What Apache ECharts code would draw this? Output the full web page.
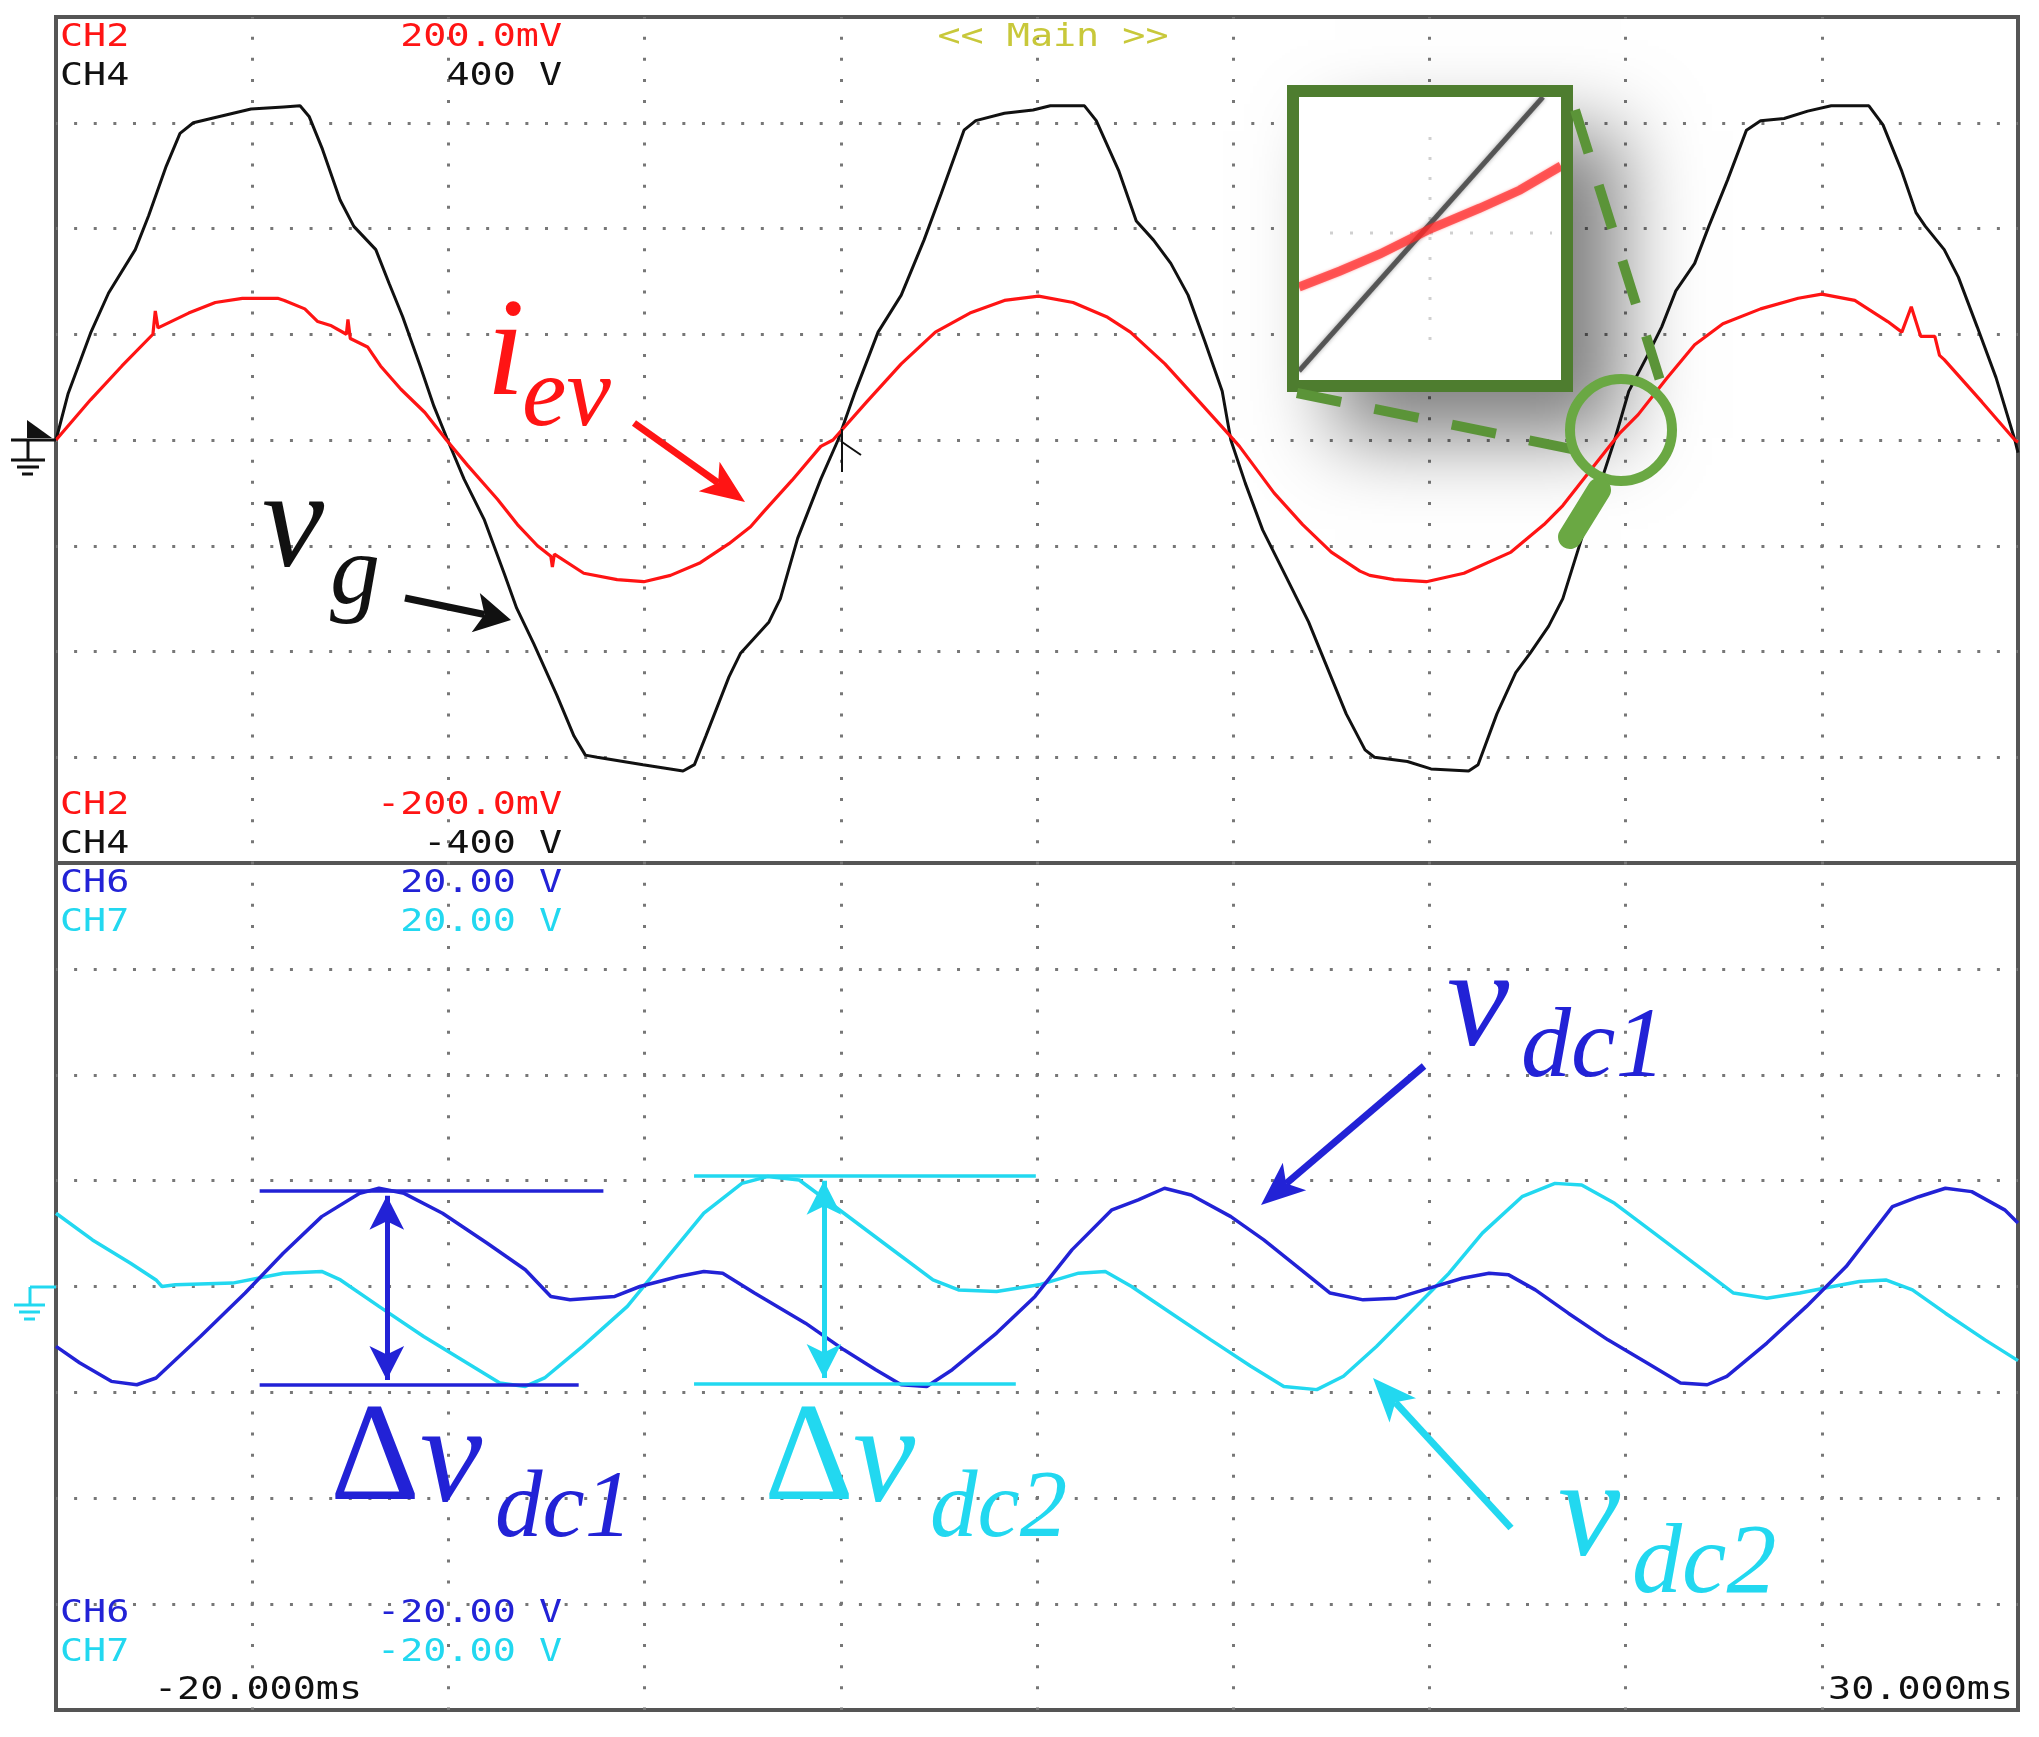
<!DOCTYPE html>
<html>
<head>
<meta charset="utf-8">
<title>vg / iev / vdc1 / vdc2</title>
<script src="https://cdn.jsdelivr.net/npm/echarts@6/dist/echarts.min.js"></script>
<style>
  * { margin: 0; padding: 0; }
  html, body { background: #fff; }
  #main { width: 2039px; height: 1737px; }
</style>
</head>
<body>
<div id="main"></div>
<script>
// ---- data (time in ms) ----
// CH4: grid voltage vg (V), 100 V/div
const vgTime = [-20.0, -19.69, -19.12, -18.66, -17.98, -17.64, -17.19, -16.84, -16.5, -15.94, -15.03, -14.2, -13.78, -13.55, -13.21, -12.76, -12.41, -11.85, -11.51, -11.17, -10.71, -10.37, -10.02,
  -9.6, -9.09, -8.58, -8.26, -7.82, -7.24, -6.8, -6.51, -6.21, -5.04, -4.02, -3.73, -3.44, -2.85, -2.56, -1.83, -1.54, -1.1, -0.51, -0.07,
  0.37, 0.95, 1.54, 2.12, 2.56, 3.14, 3.44, 4.17, 4.9, 5.34, 6.21, 6.51, 7.09, 7.53, 7.97, 8.41, 8.85, 9.28, 9.72, 9.94,
  10.31, 10.75, 11.33, 11.92, 12.35, 12.88, 13.36, 13.6, 14.44, 15.04, 16.0, 16.24, 16.72, 17.2, 17.56, 18.04, 18.4, 18.88, 19.36, 19.72,
  20.08, 20.56, 20.92, 21.28, 21.76, 22.12, 22.6, 23.08, 23.44, 24.04, 24.64, 25.24, 26.2, 26.56, 27.04, 27.4, 27.64, 28.12, 28.48, 28.96, 29.44, 29.92, 30.0]
const vgVolt = [0, 44, 101, 139, 180, 212, 259, 290, 300, 305, 313, 315, 316, 306, 275, 227, 202, 180, 148, 117, 69, 32, 0,
  -37, -75, -126, -159, -193, -241, -280, -298, -300, -307, -313, -307, -280, -224, -202, -172, -150, -93, -37, 0,
  46, 102, 137, 189, 233, 293, 302, 309, 312, 316, 316, 302, 254, 207, 189, 167, 137, 93, 46, 0,
  -41, -85, -128, -172, -211, -259, -293, -300, -304, -311, -313, -307, -259, -220, -202, -176, -150, -93, -41, 0,
  46, 80, 107, 141, 167, 202, 246, 293, 302, 304, 311, 316, 316, 298, 254, 215, 202, 180, 154, 107, 59, 0, -12]

// CH2: EV current probe iev (mV), 50 mV/div
const ievTime = [-20.0, -19.12, -18.32, -17.53, -17.47, -17.4, -16.62, -15.94, -15.25, -14.35, -14.18, -13.66, -13.33, -12.98, -12.6, -12.56, -12.5, -12.06, -11.73, -11.21, -10.6, -10.05,
  -9.51, -8.75, -8.24, -7.73, -7.39, -7.35, -7.3, -6.55, -5.7, -5.02, -4.34, -3.58, -2.85, -2.3, -1.97, -1.24, -0.51, -0.2,
  0.66, 1.54, 2.41, 3.29, 4.17, 5.04, 5.92, 6.8, 7.38, 8.26, 9.14, 9.87,
  10.16, 11.04, 11.77, 12.5, 13.23, 13.48, 14.1, 14.92, 15.88, 17.08, 17.92, 18.4, 19.12, 19.84,
  20.32, 21.04, 21.76, 22.48, 23.44, 24.4, 25.0, 25.84, 26.68, 27.04, 27.28, 27.52, 27.88, 28.0, 28.12, 29.08, 29.92, 30.0]
const ievCurr = [0, 19, 35, 50, 61, 53, 60, 65, 67, 67, 66, 62, 56, 54, 50, 57, 48, 44, 35, 24, 13, 0,
  -12, -28, -40, -50, -55, -60, -54, -63, -66, -67, -64, -58, -49, -41, -34, -19, -3, 0,
  18, 36, 51, 60, 66, 68, 65, 58, 51, 36, 18, 3,
  -3, -25, -40, -53, -62, -64, -66, -67, -63, -53, -40, -31, -14, 3,
  12, 29, 45, 55, 62, 67, 69, 66, 56, 51, 63, 49, 49, 40, 38, 18, 0, -1]

// CH6: vdc1 ripple (V), 5 V/div
const vdc1Time = [-20.0, -19.4, -18.59, -17.94, -17.45, -16.32, -15.18, -14.21, -13.23, -12.26, -11.77, -11.13, -10.15, -9.01, -8.04, -7.39, -6.9, -5.76, -5.12, -4.14, -3.49, -3.01, -2.2, -0.9,
  0.08, 0.89, 1.54, 2.19, 2.84, 3.97, 4.95, 5.89, 6.91, 7.58, 8.25, 8.93, 9.94, 10.78, 11.63, 12.47, 13.31, 14.16, 15.0, 15.84, 16.52, 17.02, 17.7, 18.54, 19.55,
  20.56, 21.4, 22.08, 22.58, 23.6, 24.61, 25.62, 26.8, 27.47, 28.15, 28.82, 29.66, 30.0]
const vdc1Volt = [-2.83, -3.6, -4.48, -4.64, -4.32, -2.36, -0.31, 1.57, 3.3, 4.4, 4.64, 4.4, 3.46, 2.04, 0.79, -0.47, -0.63, -0.47, 0, 0.47, 0.71, 0.63, -0.31, -1.73,
  -2.99, -3.93, -4.64, -4.72, -3.93, -2.2, -0.47, 1.73, 3.62, 4.09, 4.64, 4.32, 3.3, 2.2, 0.94, -0.31, -0.63, -0.55, -0.08, 0.39, 0.63, 0.55, -0.16, -1.26, -2.52,
  -3.62, -4.56, -4.64, -4.24, -2.67, -0.94, 0.94, 3.77, 4.24, 4.64, 4.48, 3.62, 3.0]

// CH7: vdc2 ripple (V), 5 V/div
const vdc2Time = [-20.0, -19.07, -18.1, -17.45, -17.3, -16.96, -15.5, -14.21, -13.23, -12.75, -11.77, -10.63, -9.66, -8.69, -8.04, -7.55, -6.58, -5.44, -4.47, -3.49, -2.52, -1.87, -1.06,
  0.08, 1.21, 2.35, 3.0, 3.97, 5.05, 6.06, 6.74, 7.41, 8.42, 9.43, 10.45, 11.29, 12.13, 12.81, 13.65, 14.49, 15.5, 16.35, 17.36, 18.2, 18.88, 19.72,
  20.73, 21.74, 22.75, 23.6, 24.44, 25.28, 25.96, 26.63, 27.31, 28.15, 29.16, 30.0]
const vdc2Volt = [3.46, 2.2, 1.1, 0.31, 0.0, 0.08, 0.16, 0.63, 0.71, 0.31, -0.94, -2.36, -3.46, -4.56, -4.72, -4.32, -2.83, -0.94, 1.26, 3.46, 4.87, 5.19, 5.03,
  3.46, 1.89, 0.31, -0.16, -0.24, 0.08, 0.63, 0.71, 0, -1.26, -2.52, -3.77, -4.72, -4.87, -4.24, -2.83, -1.26, 0.63, 2.52, 4.24, 4.87, 4.79, 3.93,
  2.52, 1.1, -0.31, -0.55, -0.31, 0, 0.24, 0.31, -0.16, -1.26, -2.52, -3.5]

// ripple peak / valley levels marked by the delta lines (V)
const dvdc1Levels = [4.54, -4.66]
const dvdc2Levels = [5.25, -4.57]

// scope readouts
const chNames = ['CH2', 'CH4', 'CH2', 'CH4', 'CH6', 'CH7', 'CH6', 'CH7']
const chScales = ['200.0mV', '400 V', '-200.0mV', '-400 V', '20.00 V', '20.00 V', '-20.00 V', '-20.00 V']
const timeLabels = ['-20.000ms', '30.000ms']

const RED = '#ff1414', BLACK = '#111111', BLUE = '#2222d6', CYAN = '#22d8f0'
const GREEN = '#4e7d2f', LGREEN = '#6aa843'

function pairs(xs, ys) {
  return xs.map(function (x, i) { return [x, ys[i]] })
}

function monoText(x, y, s, color, align) {
  return {
    type: 'text', x: x, y: y, scaleX: 1.2, z: 20, silent: true,
    style: {
      text: s, fill: color, font: '32px "DejaVu Sans Mono"',
      align: align, verticalAlign: 'middle', textAlign: align, textVerticalAlign: 'middle'
    }
  }
}

function mathText(x, base, s, size, color, italic) {
  return {
    type: 'text', z: 20, silent: true,
    style: {
      x: x, y: base - 0.34 * size, text: s, fill: color,
      font: (italic ? 'italic ' : '') + size + 'px "Liberation Serif"',
      align: 'left', verticalAlign: 'middle', textAlign: 'left', textVerticalAlign: 'middle'
    }
  }
}

// straight arrow with a notched head
function arrow(x1, y1, x2, y2, color, w, hl, hw) {
  let a = Math.atan2(y2 - y1, x2 - x1)
  let c = Math.cos(a), s = Math.sin(a)
  let bx = x2 - hl * c, by = y2 - hl * s
  let nx = x2 - hl * 0.75 * c, ny = y2 - hl * 0.75 * s
  return [
    { type: 'line', z: 20, silent: true, shape: { x1: x1, y1: y1, x2: nx, y2: ny }, style: { stroke: color, lineWidth: w } },
    { type: 'polygon', z: 20, silent: true,
      shape: { points: [[x2, y2], [bx - s * hw / 2, by + c * hw / 2], [nx, ny], [bx + s * hw / 2, by - c * hw / 2]] },
      style: { fill: color } }
  ]
}

function line(x1, y1, x2, y2, color, w, z, extra) {
  let st = Object.assign({ stroke: color, lineWidth: w }, extra || {})
  return { type: 'line', z: z, silent: true, shape: { x1: x1, y1: y1, x2: x2, y2: y2 }, style: st }
}

// readouts
let graphics = []
let rowY = [38, 77, 806, 845, 884, 923, 1614, 1653]
let rowColor = [RED, BLACK, RED, BLACK, BLUE, CYAN, BLUE, CYAN]
chNames.forEach(function (n, i) {
  graphics.push(monoText(60, rowY[i], n, rowColor[i], 'left'))
  graphics.push(monoText(562, rowY[i], chScales[i], rowColor[i], 'right'))
})
graphics.push(monoText(154, 1691, timeLabels[0], BLACK, 'left'))
graphics.push(monoText(2013, 1691, timeLabels[1], BLACK, 'right'))
graphics.push(monoText(1053, 38, '<< Main >>', '#c8c83a', 'center'))

// ground markers
graphics.push({ type: 'polygon', z: 20, silent: true, shape: { points: [[27, 420], [27, 438], [52, 438]] }, style: { fill: BLACK } })
graphics.push(line(11, 440, 56, 440, BLACK, 3, 20))
graphics.push(line(28, 440, 28, 460, BLACK, 3, 20))
graphics.push(line(11, 460, 45, 460, BLACK, 3, 20))
graphics.push(line(17, 467, 39, 467, BLACK, 3, 20))
graphics.push(line(22, 474, 33, 474, BLACK, 3, 20))
graphics.push(line(30, 1287, 56, 1287, CYAN, 3, 20))
graphics.push(line(30, 1287, 30, 1305, CYAN, 3, 20))
graphics.push(line(14, 1305, 45, 1305, CYAN, 3, 20))
graphics.push(line(19, 1312, 40, 1312, CYAN, 3, 20))
graphics.push(line(24, 1319, 35, 1319, CYAN, 3, 20))

// trigger mark
graphics.push(line(842, 429, 842, 472, BLACK, 2, 20))
graphics.push(line(842, 442, 861, 455, BLACK, 2, 20))

// signal names
graphics.push(mathText(486, 405, 'i', 140, RED, true))
graphics.push(mathText(522, 433, 'ev', 100, RED, true))
graphics = graphics.concat(arrow(634, 423, 745, 502, RED, 7, 44, 36))
graphics.push(mathText(262, 577, 'v', 140, BLACK, true))
graphics.push(mathText(330, 611, 'g', 100, BLACK, true))
graphics = graphics.concat(arrow(405, 598, 511, 620, BLACK, 7, 36, 40))
graphics.push(mathText(1447, 1056, 'v', 140, BLUE, true))
graphics.push(mathText(1521, 1084, 'dc1', 100, BLUE, true))
graphics = graphics.concat(arrow(1424, 1066, 1261, 1205, BLUE, 7, 44, 36))
graphics.push(mathText(1558, 1566, 'v', 140, CYAN, true))
graphics.push(mathText(1632, 1600, 'dc2', 100, CYAN, true))
graphics = graphics.concat(arrow(1511, 1528, 1373, 1378, CYAN, 7, 44, 36))
graphics.push(mathText(330, 1510, 'Δ', 140, BLUE, false))
graphics.push(mathText(420, 1512, 'v', 140, BLUE, true))
graphics.push(mathText(495, 1543, 'dc1', 95, BLUE, true))
graphics.push(mathText(764, 1510, 'Δ', 140, CYAN, false))
graphics.push(mathText(853, 1512, 'v', 140, CYAN, true))
graphics.push(mathText(930, 1543, 'dc2', 95, CYAN, true))

// zoom inset of the zero crossing
graphics.push({ type: 'rect', z: 1, silent: true, shape: { x: 1287, y: 85, width: 286, height: 307 },
  style: { fill: '#fff', shadowBlur: 75, shadowColor: 'rgba(0,0,0,0.5)', shadowOffsetX: 48, shadowOffsetY: 46 } })
graphics.push(line(1430, 137, 1430, 345, 'rgba(150,150,150,0.45)', 3, 8, { lineDash: [3, 17] }))
graphics.push(line(1330, 233, 1552, 233, 'rgba(150,150,150,0.45)', 3, 8, { lineDash: [3, 17] }))
graphics.push(line(1299, 371, 1543, 97, 'rgba(40,40,40,0.7)', 5, 9, { shadowBlur: 4, shadowColor: 'rgba(40,40,40,0.6)' }))
graphics.push({ type: 'polyline', z: 9, silent: true,
  shape: { points: [[1299, 287], [1340, 271], [1380, 254], [1430, 229], [1480, 208], [1520, 190], [1561, 166]] },
  style: { stroke: 'rgba(255,40,40,0.7)', lineWidth: 9, shadowBlur: 3, shadowColor: 'rgba(255,60,60,0.6)' } })
graphics.push({ type: 'rect', z: 10, silent: true, shape: { x: 1293, y: 91, width: 274, height: 295 },
  style: { fill: 'none', stroke: GREEN, lineWidth: 12 } })
graphics.push(line(1297, 393, 1581, 451, '#5b9438', 10, 10, { lineDash: [45, 34] }))
graphics.push(line(1575, 110, 1663, 390, '#5b9438', 10, 10, { lineDash: [45, 34] }))
graphics.push({ type: 'circle', z: 10, silent: true, shape: { cx: 1621, cy: 430, r: 51 },
  style: { fill: 'none', stroke: LGREEN, lineWidth: 10 } })
graphics.push(line(1599, 490, 1570, 537, LGREEN, 24, 10, { lineCap: 'round' }))

function deltaMarks(levels, t0, t1a, t1b, tArrow, color) {
  let half = 0.25
  return {
    silent: true, animation: false, symbol: 'none',
    label: { show: false },
    lineStyle: { color: color, width: 3.5, type: 'solid' },
    data: [
      [{ coord: [t0, levels[0]] }, { coord: [t1a, levels[0]] }],
      [{ coord: [t0, levels[1]] }, { coord: [t1b, levels[1]] }],
      [{ coord: [tArrow, levels[0] - half], symbol: 'arrow', symbolSize: [26, 34], lineStyle: { width: 5 } },
       { coord: [tArrow, levels[1] + half], symbol: 'arrow', symbolSize: [26, 34] }]
    ]
  }
}

let myChart = echarts.init(document.getElementById('main'))
myChart.setOption({
  animation: false,
  backgroundColor: '#fff',
  grid: [
    { left: 56, top: 17, width: 1962, height: 846, show: true, borderColor: '#555', borderWidth: 4, backgroundColor: 'transparent' },
    { left: 56, top: 863, width: 1962, height: 847, show: true, borderColor: '#555', borderWidth: 4, backgroundColor: 'transparent' }
  ],
  xAxis: [0, 1].map(function (g) {
    return {
      type: 'value', gridIndex: g, min: -20, max: 30, interval: 5,
      axisLine: { show: false }, axisTick: { show: false }, axisLabel: { show: false },
      splitLine: { show: true, showMinLine: false, showMaxLine: false,
        lineStyle: { color: '#777', width: 3, type: [3, 18.15], dashOffset: 1.5 } }
    }
  }),
  yAxis: [
    { type: 'value', gridIndex: 0, min: -400, max: 400, interval: 100,
      axisLine: { show: false }, axisTick: { show: false }, axisLabel: { show: false },
      splitLine: { show: true, showMinLine: false, showMaxLine: false,
        lineStyle: { color: '#777', width: 3, type: [3, 16.62], dashOffset: 1.5 } } },
    { type: 'value', gridIndex: 0, min: -200, max: 200, interval: 50,
      axisLine: { show: false }, axisTick: { show: false }, axisLabel: { show: false }, splitLine: { show: false } },
    { type: 'value', gridIndex: 1, min: -20, max: 20, interval: 5,
      axisLine: { show: false }, axisTick: { show: false }, axisLabel: { show: false },
      splitLine: { show: true, showMinLine: false, showMaxLine: false,
        lineStyle: { color: '#777', width: 3, type: [3, 16.62], dashOffset: 1.5 } } }
  ],
  series: [
    { name: 'vg', type: 'line', xAxisIndex: 0, yAxisIndex: 0, data: pairs(vgTime, vgVolt),
      symbol: 'none', lineStyle: { color: BLACK, width: 3 }, z: 3 },
    { name: 'iev', type: 'line', xAxisIndex: 0, yAxisIndex: 1, data: pairs(ievTime, ievCurr),
      symbol: 'none', lineStyle: { color: RED, width: 3.2 }, z: 4 },
    { name: 'vdc2', type: 'line', xAxisIndex: 1, yAxisIndex: 2, data: pairs(vdc2Time, vdc2Volt),
      symbol: 'none', lineStyle: { color: CYAN, width: 3.5 }, z: 3,
      markLine: deltaMarks(dvdc2Levels, -3.74, 4.97, 4.46, -0.43, CYAN) },
    { name: 'vdc1', type: 'line', xAxisIndex: 1, yAxisIndex: 2, data: pairs(vdc1Time, vdc1Volt),
      symbol: 'none', lineStyle: { color: BLUE, width: 3.5 }, z: 4,
      markLine: deltaMarks(dvdc1Levels, -14.81, -6.05, -6.68, -11.57, BLUE) }
  ],
  graphic: graphics
})
</script>
</body>
</html>
